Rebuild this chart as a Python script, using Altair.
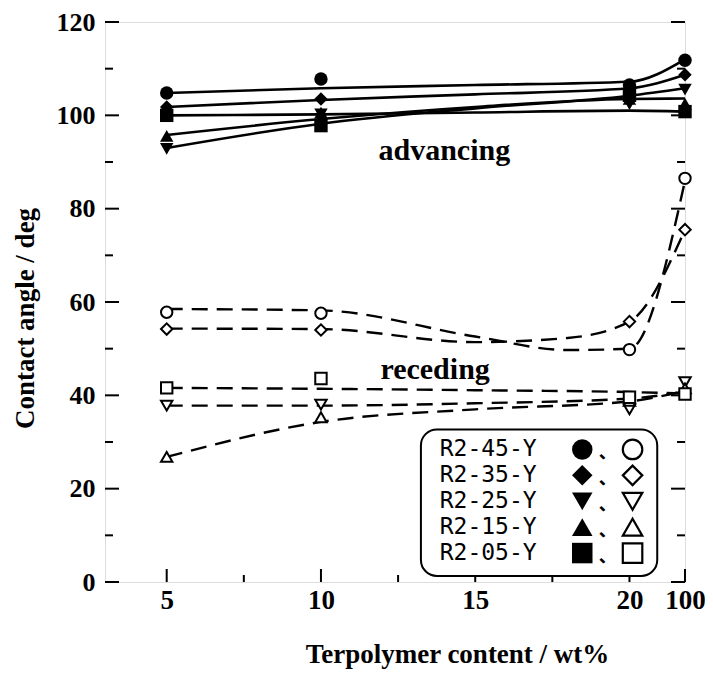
import altair as alt
import pandas as pd

# ---------------- data ----------------
series = ["R2-45-Y", "R2-35-Y", "R2-25-Y", "R2-15-Y", "R2-05-Y"]
shapes = ["circle", "diamond", "triangle-down", "triangle-up", "square"]

x_content = [5, 10, 20, 100]          # terpolymer content / wt%
POS_100 = 21.8                         # where 100 wt% sits on the broken axis

# advancing contact angles (filled symbols)
adv_45 = [104.8, 107.8, 106.5, 111.8]
adv_35 = [101.8, 103.5, 105.5, 108.7]
adv_25 = [92.8, 100.2, 102.4, 105.5]
adv_15 = [95.6, 100.6, 103.5, 102.5]
adv_05 = [100.0, 97.8, 104.3, 100.8]

# receding contact angles (open symbols)
rec_45 = [57.8, 57.6, 49.8, 86.5]
rec_35 = [54.2, 54.0, 55.8, 75.5]
rec_25 = [37.8, 38.0, 37.0, 42.8]
rec_15 = [26.8, 35.3, 38.8, 41.5]
rec_05 = [41.6, 43.6, 39.6, 40.3]

# fitted curves
fit_x = [5, 10, 15, 20, 100]
fit_adv_45 = [104.8, 105.8, 106.5, 107.2, 112.0]
fit_adv_35 = [101.8, 103.3, 104.5, 105.8, 108.7]
fit_adv_25 = [93.0, 98.2, 101.5, 104.2, 105.8]
fit_adv_15 = [95.8, 99.2, 101.8, 103.5, 103.6]
fit_adv_05 = [100.0, 100.2, 100.6, 101.0, 100.8]

fit_x_upper = [5, 10, 15, 18, 20, 100]
fit_rec_45 = [58.5, 58.2, 52.6, 49.7, 50.0, 86.0]
fit_rec_35 = [54.3, 54.2, 51.4, 52.3, 55.8, 75.5]
fit_rec_25 = [37.8, 37.8, 38.3, 39.3, 40.8]
fit_rec_15 = [26.8, 34.3, 37.0, 38.7, 41.0]
fit_rec_05 = [41.6, 41.4, 41.1, 40.7, 40.4]

x_major = [5, 10, 15, 20, POS_100]
x_minor = [7.5, 12.5, 17.5]
y_major = [0, 20, 40, 60, 80, 100, 120]
y_minor = [10, 30, 50, 70, 90, 110]

# ---------------- helpers ----------------
def pos(v):
    return POS_100 if v == 100 else v

adv = [adv_45, adv_35, adv_25, adv_15, adv_05]
rec = [rec_45, rec_35, rec_25, rec_15, rec_05]
fadv = [fit_adv_45, fit_adv_35, fit_adv_25, fit_adv_15, fit_adv_05]
frec = [fit_rec_45, fit_rec_35, fit_rec_25, fit_rec_15, fit_rec_05]
frec_x = [fit_x_upper, fit_x_upper, fit_x, fit_x, fit_x]

pts_adv = pd.DataFrame([{"x": pos(x), "y": v, "s": s}
                        for s, vals in zip(series, adv) for x, v in zip(x_content, vals)])
pts_rec = pd.DataFrame([{"x": pos(x), "y": v, "s": s}
                        for s, vals in zip(series, rec) for x, v in zip(x_content, vals)])
lin_adv = pd.DataFrame([{"x": pos(x), "y": v, "s": s, "o": i}
                        for s, vals in zip(series, fadv) for i, (x, v) in enumerate(zip(fit_x, vals))])
lin_rec = pd.DataFrame([{"x": pos(x), "y": v, "s": s, "o": i}
                        for s, xs, vals in zip(series, frec_x, frec) for i, (x, v) in enumerate(zip(xs, vals))])

XS = alt.Scale(domain=[3, POS_100], nice=False, zero=False)
YS = alt.Scale(domain=[0, 120], nice=False, zero=False)
SH = alt.Scale(domain=series, range=shapes)
SERIF = "Liberation Serif"

x_axis = alt.Axis(values=x_major, labelExpr="datum.value > 21 ? '100' : format(datum.value, 'd')",
                  ticks=False, domain=False, grid=False, labelFont=SERIF, labelFontWeight="bold",
                  labelFontSize=27, labelColor="black", labelPadding=5, labelFlush=False,
                  title="Terpolymer content / wt%", titleFont=SERIF, titleFontWeight="bold",
                  titleFontSize=27, titleColor="black", titleX=352, titleY=72,
                  titleAlign="center", titleBaseline="middle")
y_axis = alt.Axis(values=y_major, ticks=False, domain=False, grid=False, labelFont=SERIF,
                  labelFontWeight="bold", labelFontSize=26, labelColor="black", labelPadding=10,
                  labelFlush=False, title="Contact angle / deg", titleFont=SERIF,
                  titleFontWeight="bold", titleFontSize=27, titleColor="black",
                  titleX=-80, titleY=296, titleAlign="center", titleBaseline="middle", titleAngle=270)

# ---------------- layers ----------------
lines_adv = alt.Chart(lin_adv).mark_line(color="black", strokeWidth=2.6, interpolate="monotone").encode(
    x=alt.X("x:Q", scale=XS, axis=x_axis), y=alt.Y("y:Q", scale=YS, axis=y_axis),
    detail="s:N", order="o:Q")
lines_rec = alt.Chart(lin_rec).mark_line(color="black", strokeWidth=2.4, strokeDash=[16, 9],
                                         interpolate="monotone").encode(
    x=alt.X("x:Q", scale=XS), y=alt.Y("y:Q", scale=YS), detail="s:N", order="o:Q")

marks_adv = alt.Chart(pts_adv).mark_point(filled=True, color="black", size=180, opacity=1).encode(
    x=alt.X("x:Q", scale=XS), y=alt.Y("y:Q", scale=YS),
    shape=alt.Shape("s:N", scale=SH, legend=None))
marks_rec = alt.Chart(pts_rec).mark_point(filled=False, fill="white", stroke="black", strokeWidth=2,
                                          size=130, opacity=1, fillOpacity=1).encode(
    x=alt.X("x:Q", scale=XS), y=alt.Y("y:Q", scale=YS),
    shape=alt.Shape("s:N", scale=SH, legend=None))

tick_x_major = alt.Chart(pd.DataFrame({"v": x_major})).mark_rule(color="black", strokeWidth=2).encode(
    x=alt.X("v:Q", scale=XS), y=alt.value(560), y2=alt.value(547))
tick_x_minor = alt.Chart(pd.DataFrame({"v": x_minor})).mark_rule(color="black", strokeWidth=2).encode(
    x=alt.X("v:Q", scale=XS), y=alt.value(560), y2=alt.value(553))
tick_yl_major = alt.Chart(pd.DataFrame({"v": y_major})).mark_rule(color="black", strokeWidth=2).encode(
    y=alt.Y("v:Q", scale=YS), x=alt.value(0), x2=alt.value(14))
tick_yl_minor = alt.Chart(pd.DataFrame({"v": y_minor})).mark_rule(color="black", strokeWidth=2).encode(
    y=alt.Y("v:Q", scale=YS), x=alt.value(0), x2=alt.value(8))
tick_yr_major = alt.Chart(pd.DataFrame({"v": y_major})).mark_rule(color="black", strokeWidth=2).encode(
    y=alt.Y("v:Q", scale=YS), x=alt.value(580), x2=alt.value(566))
tick_yr_minor = alt.Chart(pd.DataFrame({"v": y_minor})).mark_rule(color="black", strokeWidth=2).encode(
    y=alt.Y("v:Q", scale=YS), x=alt.value(580), x2=alt.value(572))

annot = alt.Chart(pd.DataFrame({"x": [14.0, 13.7], "y": [92.4, 45.4],
                                "t": ["advancing", "receding"]})).mark_text(
    font=SERIF, fontWeight="bold", fontSize=30, color="black", baseline="middle", align="center").encode(
    x=alt.X("x:Q", scale=XS), y=alt.Y("y:Q", scale=YS), text="t:N")

# legend box (drawn in data coordinates)
legend_box = alt.Chart(pd.DataFrame({"a": [0]})).mark_rect(
    fill="white", stroke="black", strokeWidth=2, cornerRadius=16).encode(
    x=alt.datum(13.24, scale=XS), x2=alt.datum(20.9), y=alt.datum(1.3, scale=YS), y2=alt.datum(32.7))

leg_y = [28.4, 22.85, 17.3, 11.75, 6.2]
leg_df = pd.DataFrame({"s": series, "y": leg_y})
leg_text = alt.Chart(leg_df).mark_text(font="DejaVu Sans Mono", fontSize=23, color="black",
                                       align="left", baseline="middle").encode(
    x=alt.datum(13.85, scale=XS), y=alt.Y("y:Q", scale=YS), text="s:N")
leg_fill = alt.Chart(leg_df).mark_point(filled=True, color="black", size=420, opacity=1).encode(
    x=alt.datum(18.47, scale=XS), y=alt.Y("y:Q", scale=YS), shape=alt.Shape("s:N", scale=SH, legend=None))
leg_comma = alt.Chart(leg_df).mark_text(text="、", font="Noto Sans CJK JP", fontSize=18, color="black",
                                        fontWeight="bold", align="center", baseline="middle", dy=4).encode(
    x=alt.datum(19.3, scale=XS), y=alt.Y("y:Q", scale=YS))
leg_open = alt.Chart(leg_df).mark_point(filled=False, fill="white", stroke="black", strokeWidth=2.2,
                                        size=380, opacity=1).encode(
    x=alt.datum(20.1, scale=XS), y=alt.Y("y:Q", scale=YS), shape=alt.Shape("s:N", scale=SH, legend=None))

chart = alt.layer(
    lines_adv, lines_rec, tick_x_major, tick_x_minor, tick_yl_major, tick_yl_minor,
    tick_yr_major, tick_yr_minor, marks_adv, marks_rec, annot,
    legend_box, leg_text, leg_fill, leg_comma, leg_open,
).properties(
    width=580, height=560,
    padding={"left": 97, "top": 14, "right": 20, "bottom": 88},
    autosize=alt.AutoSizeParams(type="none"),
).configure_view(stroke="black", strokeWidth=2.5).configure(background="white")

chart.save("out.html", embed_options={"renderer": "svg", "actions": False})
